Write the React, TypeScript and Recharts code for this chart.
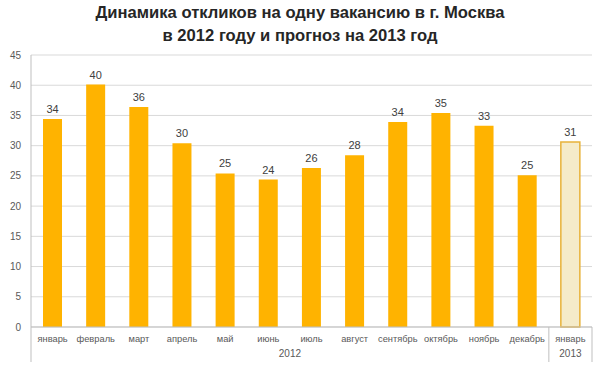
import { BarChart, Bar, XAxis, YAxis, CartesianGrid, LabelList, Cell } from "recharts";

const months = [
  "январь", "февраль", "март", "апрель", "май", "июнь",
  "июль", "август", "сентябрь", "октябрь", "ноябрь", "декабрь", "январь",
];
const responses = [34.4, 40.1, 36.4, 30.4, 25.4, 24.4, 26.3, 28.4, 33.9, 35.4, 33.3, 25.1, 30.6];
const forecast = [false, false, false, false, false, false, false, false, false, false, false, false, true];
const yTicks = [0, 5, 10, 15, 20, 25, 30, 35, 40, 45];
// year groups on the lower axis: label at group centre, separators at group edges
const yearLabels: Record<string, string> = { "6": "2012", "12.5": "2013" };
const yearTicks = [0, 6, 12, 12.5, 13];

const data = months.map((m, i) => ({
  month: m,
  value: responses[i],
  forecast: forecast[i],
  pos: i + 0.5,
}));

const FONT = "'Liberation Sans', Arial, sans-serif";

function YearTick(props: any) {
  const { x, y, payload } = props;
  const label = yearLabels[String(payload.value)];
  if (label) {
    return (
      <text x={x} y={y + 12} textAnchor="middle" fontSize={10} fill="#595959" fontFamily={FONT}>
        {label}
      </text>
    );
  }
  return <line x1={x} x2={x} y1={y - 18} y2={y + 17} stroke="#bfbfbf" strokeWidth={1} />;
}

export default function App() {
  return (
    <div style={{ position: "absolute", left: 0, top: 0, width: 600, height: 365, background: "#fff" }}>
      <div
        style={{
          position: "absolute",
          left: 0,
          top: 1,
          width: 600,
          textAlign: "center",
          fontFamily: FONT,
          fontWeight: "bold",
          fontSize: 16.6,
          lineHeight: "23px",
          color: "#262626",
        }}
      >
        Динамика откликов на одну вакансию в г. Москва
        <br />
        в 2012 году и прогноз на 2013 год
      </div>
      <BarChart
        width={600}
        height={365}
        data={data}
        margin={{ top: 55, right: 8, left: 0, bottom: 0 }}
      >
        <CartesianGrid vertical={false} stroke="#d9d9d9" />
        <XAxis
          dataKey="month"
          xAxisId="m"
          height={18}
          interval={0}
          tickLine={false}
          axisLine={{ stroke: "#bfbfbf" }}
          tick={{ fontSize: 9.3, fill: "#595959", fontFamily: FONT }}
        />
        <XAxis
          dataKey="pos"
          xAxisId="y"
          type="number"
          domain={[0, 13]}
          ticks={yearTicks}
          interval={0}
          height={20}
          tickSize={0}
          tickMargin={0}
          tickLine={false}
          axisLine={false}
          tick={<YearTick />}
        />
        <YAxis
          width={31}
          domain={[0, 45]}
          ticks={yTicks}
          tickLine={false}
          tickMargin={4}
          axisLine={{ stroke: "#bfbfbf" }}
          tick={{ fontSize: 10, fill: "#595959", fontFamily: FONT }}
        />
        <Bar dataKey="value" xAxisId="m" barSize={19} isAnimationActive={false}>
          {data.map((d, i) => (
            <Cell
              key={i}
              fill={d.forecast ? "#f5ebc9" : "#ffb300"}
              stroke={d.forecast ? "#e8b33a" : "none"}
              strokeWidth={d.forecast ? 1.5 : 0}
            />
          ))}
          <LabelList
            dataKey="value"
            position="top"
            offset={6}
            formatter={(v: number) => Math.round(v)}
            style={{ fontSize: 11, fill: "#404040", fontFamily: FONT }}
          />
        </Bar>
      </BarChart>
    </div>
  );
}
